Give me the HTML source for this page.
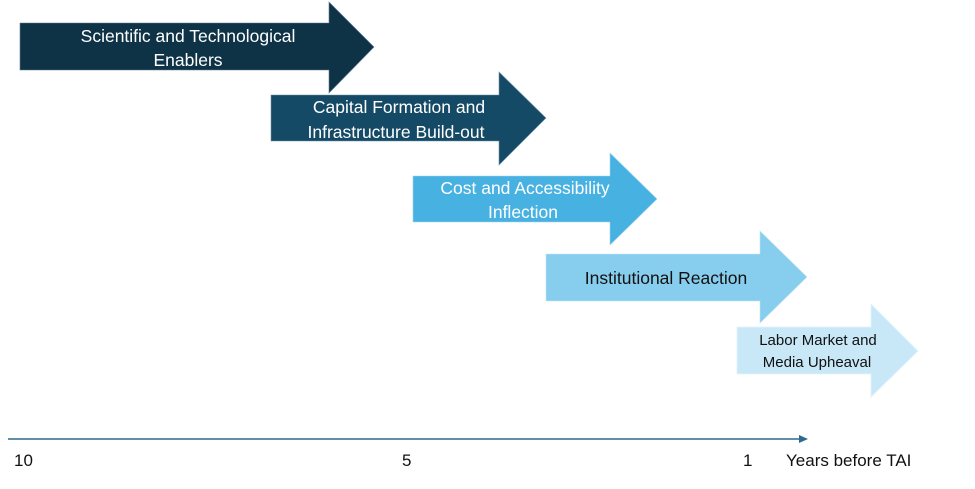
<!DOCTYPE html>
<html><head><meta charset="utf-8"><style>
body{margin:0;background:#fff;}
svg text{font-family:"Liberation Sans",sans-serif;}
</style></head><body>
<svg width="975" height="484" viewBox="0 0 975 484" xmlns="http://www.w3.org/2000/svg">
<polygon points="20,23 329,23 329,2 374,47 329,93 329,70 20,70" fill="#0e3246" stroke="#5f7f90" stroke-width="0.6"/>
<text x="188" y="42" font-size="17.5" fill="#fff" text-anchor="middle">Scientific and Technological</text>
<text x="188" y="66" font-size="17.5" fill="#fff" text-anchor="middle">Enablers</text>

<polygon points="271,95 499,95 499,72 546,118 499,165 499,141 271,141" fill="#154a66" stroke="#6f93a8" stroke-width="0.6"/>
<text x="399" y="113" font-size="17.5" fill="#fff" text-anchor="middle">Capital Formation and</text>
<text x="396" y="138" font-size="17.5" fill="#fff" text-anchor="middle">Infrastructure Build-out</text>

<polygon points="413,176 610,176 610,153 657,199 610,245 610,222 413,222" fill="#47b1e1" stroke="#9fd6ef" stroke-width="0.6"/>
<text x="525" y="194" font-size="17.5" fill="#fff" text-anchor="middle">Cost and Accessibility</text>
<text x="523" y="218" font-size="17.5" fill="#fff" text-anchor="middle">Inflection</text>

<polygon points="546,254 760,254 760,231 807,277 760,323 760,301 546,301" fill="#87ceee" stroke="#bfe4f5" stroke-width="0.6"/>
<text x="666" y="284" font-size="17.5" fill="#111" text-anchor="middle">Institutional Reaction</text>

<polygon points="737,327 871,327 871,304 918,351 871,397 871,374 737,374" fill="#c8e8f8" stroke="#e2f3fb" stroke-width="0.8"/>
<text x="818" y="345" font-size="15" fill="#111" text-anchor="middle">Labor Market and</text>
<text x="817" y="367" font-size="15" fill="#111" text-anchor="middle">Media Upheaval</text>

<line x1="8" y1="439" x2="801" y2="439" stroke="#2e6a8c" stroke-width="1.5"/>
<polygon points="799,435 808,439 799,443" fill="#2e6a8c"/>
<text x="14" y="466" font-size="17" fill="#111">10</text>
<text x="402" y="466" font-size="17" fill="#111">5</text>
<text x="743" y="466" font-size="17" fill="#111">1</text>
<text x="786" y="466" font-size="17" fill="#111">Years before TAI</text>
</svg>
</body></html>
